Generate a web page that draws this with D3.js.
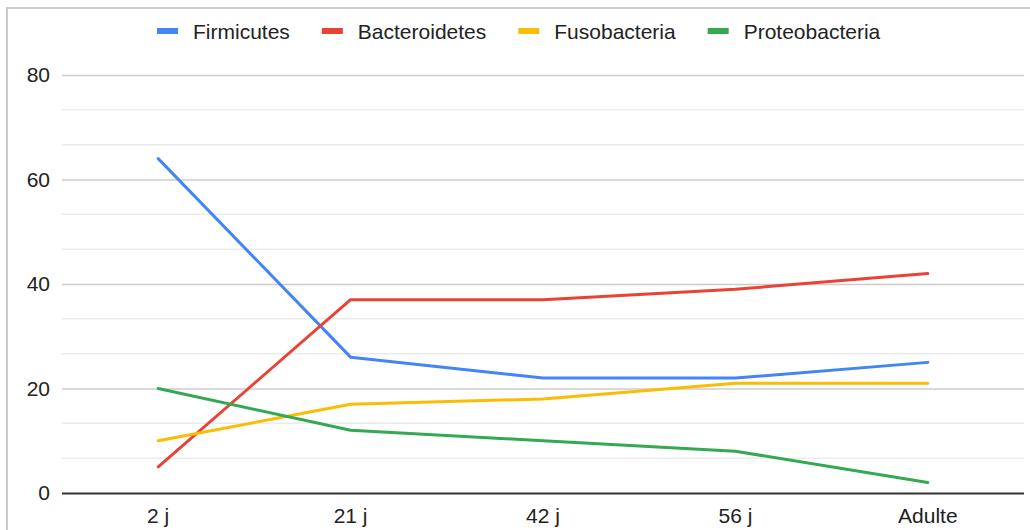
<!DOCTYPE html>
<html>
<head>
<meta charset="utf-8">
<script src="https://cdn.jsdelivr.net/npm/d3@7"></script>
<style>
  html, body { margin: 0; padding: 0; background: #fff; }
  svg { display: block; font-family: "Liberation Sans", Arial, sans-serif; }
</style>
</head>
<body>
<svg id="chart" width="1030" height="530"></svg>
<script>
const categories = ["2 j", "21 j", "42 j", "56 j", "Adulte"];
const seriesNames = ["Firmicutes", "Bacteroidetes", "Fusobacteria", "Proteobacteria"];
const firmicutes = [64, 26, 22, 22, 25];
const bacteroidetes = [5, 37, 37, 39, 42];
const fusobacteria = [10, 17, 18, 21, 21];
const proteobacteria = [20, 12, 10, 8, 2];
const seriesColors = ["#4285F4", "#EA4335", "#FBBC04", "#34A853"];
const yTicks = [0, 20, 40, 60, 80];

const seriesValues = [firmicutes, bacteroidetes, fusobacteria, proteobacteria];

const svg = d3.select("#chart");
const margin = { left: 62, right: 1024, top: 75, bottom: 493 };
const fontSize = 21;

// outer border
svg.append("rect")
  .attr("x", 7).attr("y", 8)
  .attr("width", 1040).attr("height", 540)
  .attr("fill", "none").attr("stroke", "#cccccc").attr("stroke-width", 2);

const x = d3.scaleBand().domain(categories).range([margin.left, margin.right]);
const y = d3.scaleLinear().domain([0, 80]).range([margin.bottom, margin.top]);

// minor gridlines
const minor = [];
for (let i = 0; i < yTicks.length - 1; i++) {
  const a = yTicks[i], b = yTicks[i + 1];
  minor.push(a + (b - a) / 3, a + 2 * (b - a) / 3);
}
svg.append("g").selectAll("line").data(minor).join("line")
  .attr("x1", margin.left).attr("x2", margin.right)
  .attr("y1", d => y(d)).attr("y2", d => y(d))
  .attr("stroke", "#ebebeb").attr("stroke-width", 1.5);

// y axis (major grid + labels)
const yAxis = d3.axisLeft(y).tickValues(yTicks).tickSize(-(margin.right - margin.left)).tickPadding(12);
const gy = svg.append("g").attr("transform", `translate(${margin.left},0)`).call(yAxis);
gy.select(".domain").remove();
gy.selectAll(".tick line").attr("stroke", d => d === 0 ? "#333333" : "#cccccc")
  .attr("stroke-width", d => d === 0 ? 2 : 1.5);
gy.selectAll(".tick text").attr("fill", "#222222").attr("font-size", fontSize)
  .attr("font-family", "Liberation Sans, Arial, sans-serif");

// x axis labels
const xAxis = d3.axisBottom(x).tickSize(0).tickPadding(15);
const gx = svg.append("g").attr("transform", `translate(0,${margin.bottom})`).call(xAxis);
gx.select(".domain").remove();
gx.selectAll(".tick text").attr("fill", "#222222").attr("font-size", fontSize)
  .attr("font-family", "Liberation Sans, Arial, sans-serif");

// lines
const line = d3.line()
  .x((d, i) => x(categories[i]) + x.bandwidth() / 2)
  .y(d => y(d));
svg.append("g").selectAll("path").data(seriesValues).join("path")
  .attr("d", d => line(d))
  .attr("fill", "none")
  .attr("stroke", (d, i) => seriesColors[i])
  .attr("stroke-width", 3)
  .attr("stroke-linejoin", "round")
  .attr("stroke-linecap", "round");

// legend
const legend = svg.append("g");
let lx = 157;
seriesNames.forEach((name, i) => {
  legend.append("rect")
    .attr("x", lx).attr("y", 28).attr("width", 21).attr("height", 6)
    .attr("fill", seriesColors[i]);
  const t = legend.append("text")
    .attr("x", lx + 36).attr("y", 38.5)
    .attr("font-size", fontSize).attr("fill", "#222222")
    .text(name);
  const w = t.node().getComputedTextLength();
  lx += 36 + w + 32;
});
</script>
</body>
</html>
